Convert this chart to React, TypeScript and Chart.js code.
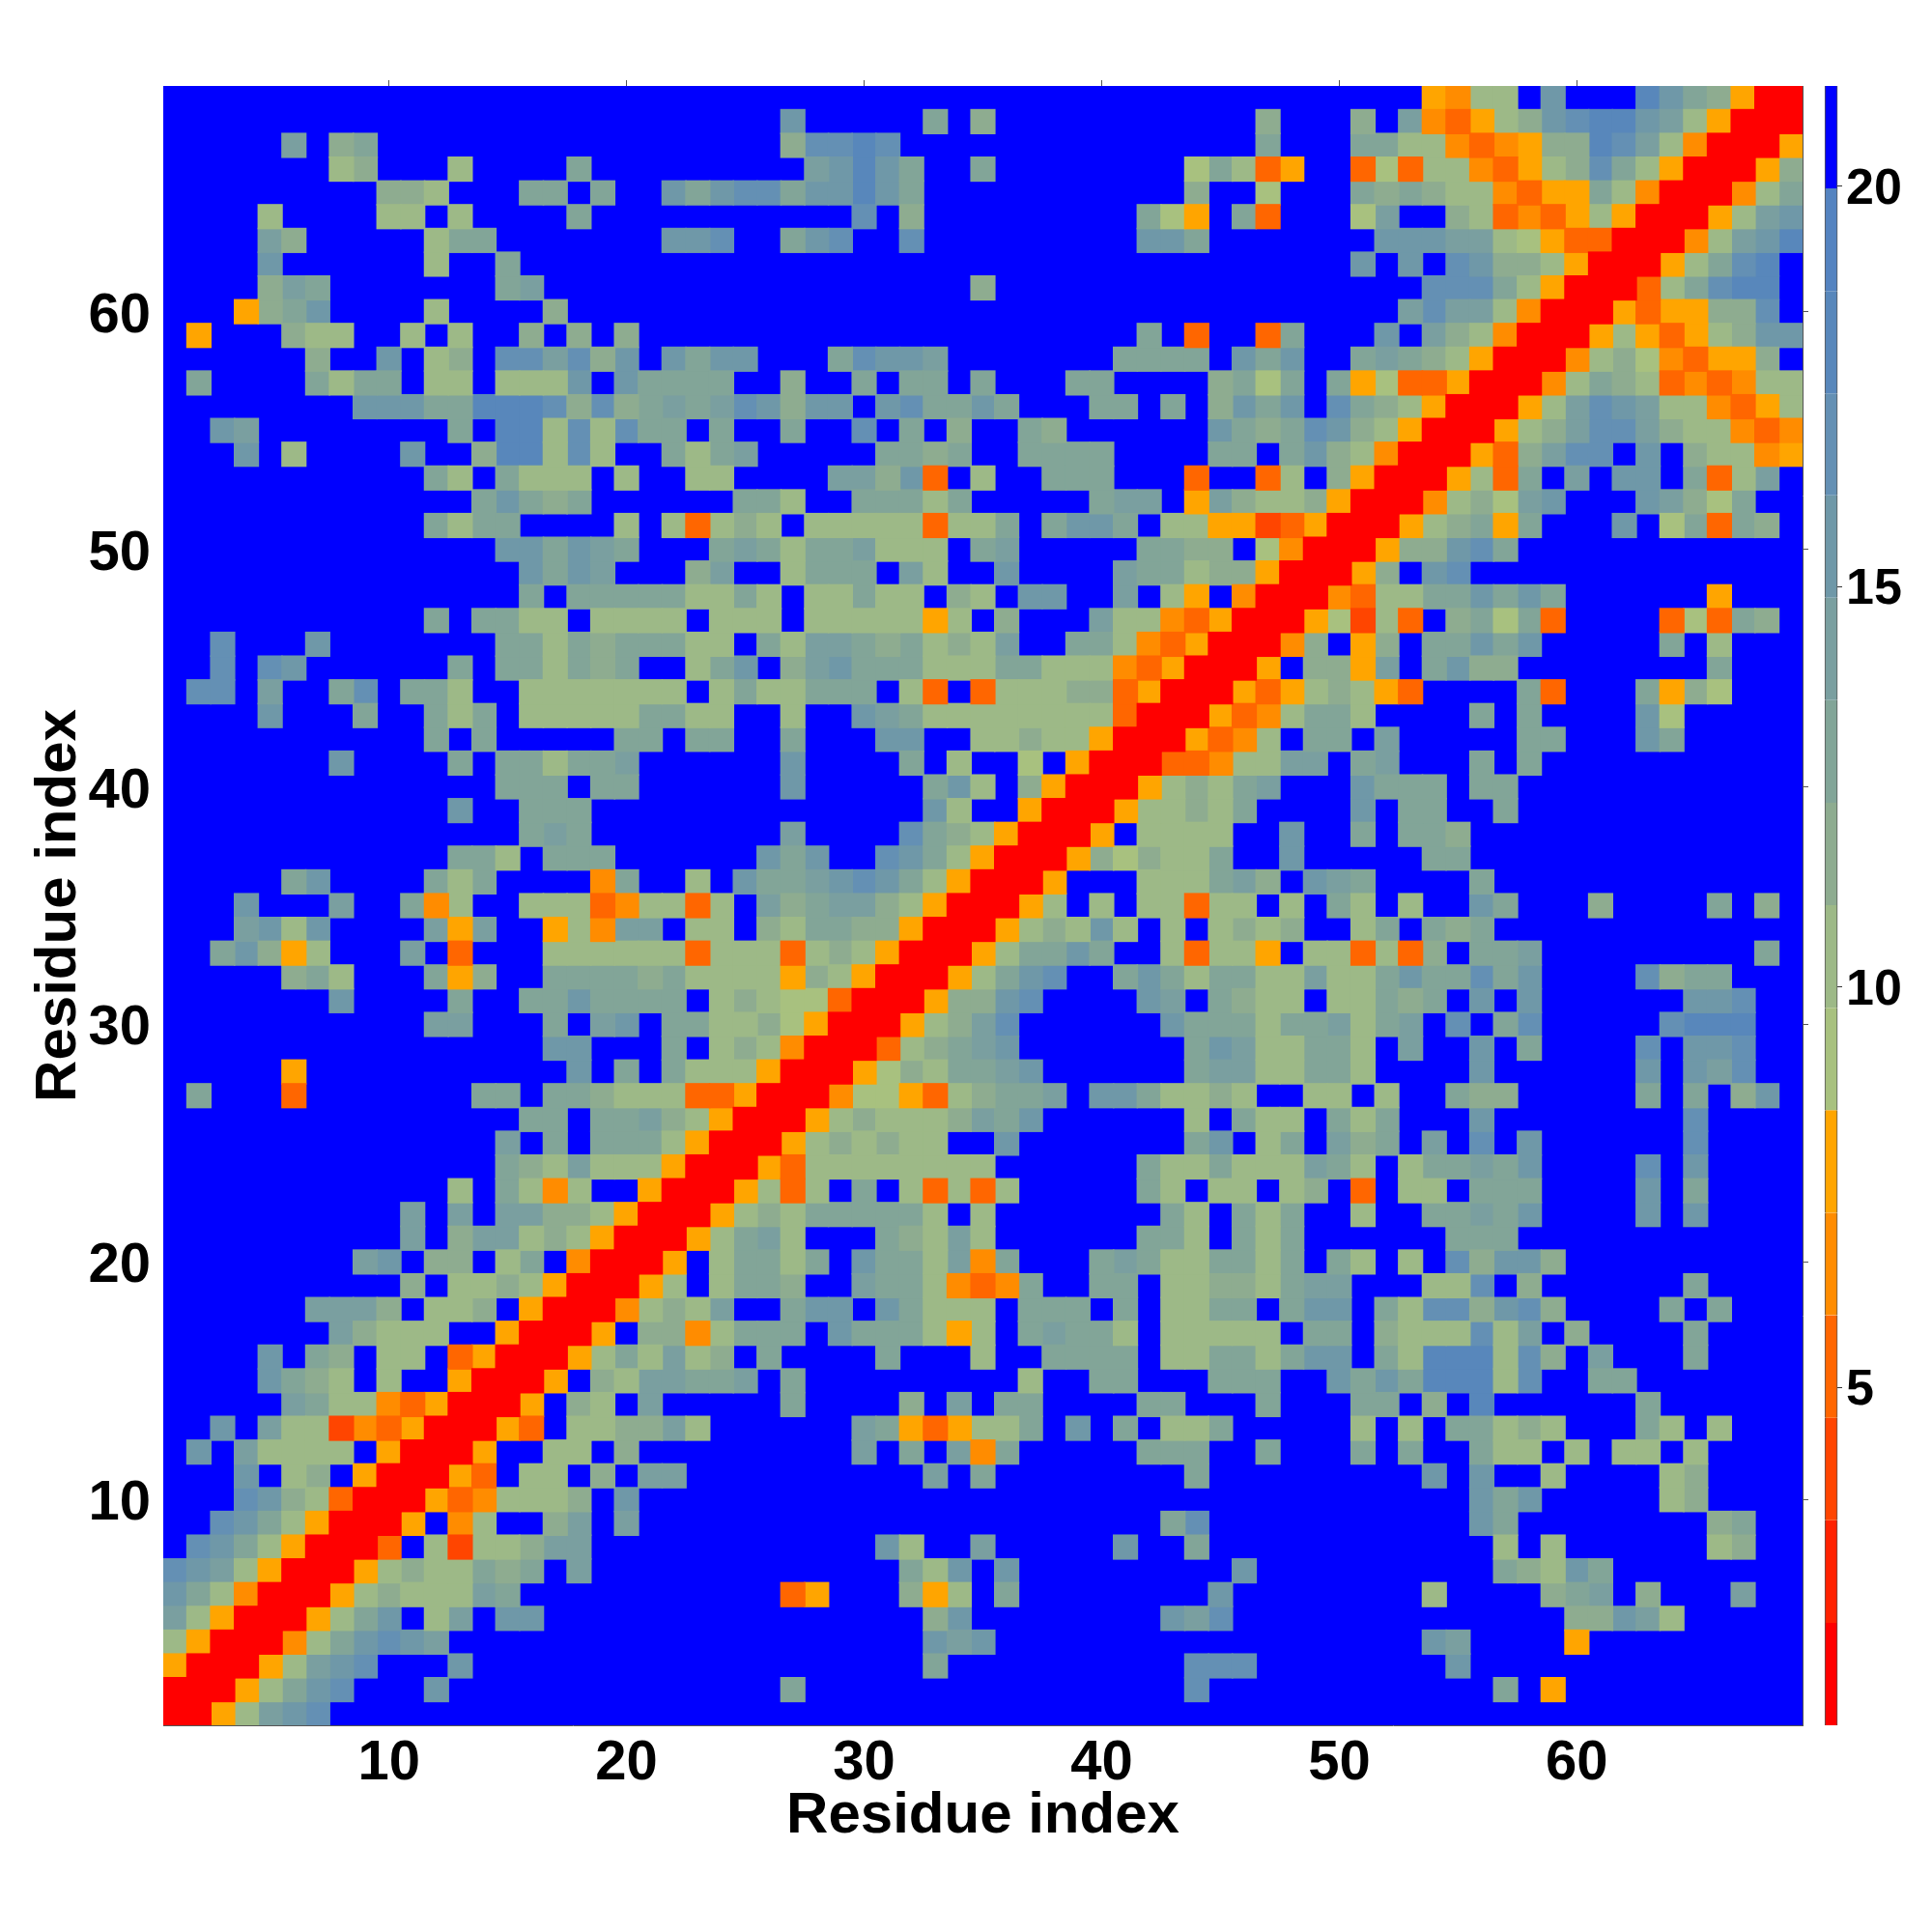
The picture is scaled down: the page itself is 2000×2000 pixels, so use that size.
import React, { useEffect, useRef } from "react";
import { Chart, registerables } from "chart.js";

Chart.register(...registerables);

const residueCount = 69;
const tickValues = [10, 20, 30, 40, 50, 60];
const colorbarTicks = [5, 10, 15, 20];
const axisTitle = "Residue index";

// Edges of the 16 discrete distance levels, and their colours (low to high).
const levelEdges = [0.78, 2.06, 3.34, 4.62, 5.9, 7.18, 8.46, 9.74, 11.02, 12.3, 13.58, 14.86, 16.14, 17.41, 18.69, 19.97, 21.25];
const levelColors = [
  "#ff0000", "#ff2200", "#ff4500", "#ff6600", "#ff8c00", "#ffa500",
  "#a8c17f", "#9db987", "#8eac90", "#82a598", "#7a9fa0", "#6f98a8",
  "#6490b4", "#5887bb", "#5483c0", "#0000ff",
];
// One character per cell: index into the levels (0-9, a-e), "." = top level.
const levelCodes = "0123456789abcde.";

// Upper triangle of the symmetric map: row i holds residues x = i..69.
const triangleRows = [
  "0057abc........... ................. ................. .................",
  "00579bc...b...... ........9........ ........c........ ....9.5..........",
  "0057abc...b..... ..............9.. ........ccc...... ..b..............",
  "00479bcba...... ..............bab ................. .ba....5.........",
  "00579b.7a.bb.. ..............8b. .......bac....... .......88ba7.....",
  "00578777a9... ........35...857. 9........b....... .7....89a.8...a..",
  "0057877989.a .............97b. b.........b...... ....987b9........",
  "003.72778aa ............b7..a .....b..9........ ....7.7......78..",
  "005.47..8a .a............... .......9c........ ...b9........89..",
  "005347778 .b............... ................. ...b9b.....78....",
  "0053.77. 8.aa..........a.9 ........9........ .b.b..7....78....",
  "005..77 .8.........a.9.a4 9.....999..9...9. 9..977.7.77.7....",
  "0053.7 788a7......a95357 79.b.9.779.....7. 7.99787...97.7...",
  "005.8 7.a.....9....8.a. 99....99...9...99 .8.d......9......",
  "005. 87aa99a.9........ .7..99...999..b9b 9ddd7c..99.......",
  "005 797a78.9....9...7 ..9999.779979bb.9 7ddd7c8.a...9....",
  "00 5.8847999.b999757 .9a997.77777.99.8 777c7a.8....9....",
  "0 04787a..9bb.b9777 .999.9.7799.9bb.9 7cc8bc8....9.9...",
  "0057.7998..a99743 49..99.778879aa.. .77c.8......9....",
  "005.79979.b997a4 9...9a9779979.97. 7.c8bb8..........",
  "00579a7...987a7 ......997.979.... ..999............",
  "005787999997.7 .......97.979..7. .99a9b....b.b....",
  "005737.9.7373 7.....97.77.78.3. 77.999....b.9....",
  "005377777777 ......9779777a97. 799a9b....c.b....",
  "005787877.. b.......9b.79.a89 .a.c.b......c....",
  "005787778a 9b......7.977.979 ...b........c....",
  "004665378 99a.bb97787..77.7 ..988.....9.9.8b.",
  "00568799 ab......9aa77997. ...b......b.bac..",
  "003789a b.......9ba77997. a..b.9....c.bbc..",
  "00578a c......b999799a79 a.c.9c.....cddd..",
  "00588 bc....ba.9877.779 89.b.b......bbc..",
  "0057 9bc..9b979977a779 b99c9b....c899...",
  "005 799b9..73775.7737 38.99a.........9.",
  "00 5787b7.7.7878..79 .989.............",
  "0 057.7.77377.7.97. 7..b9...8....9.8.",
  "005...7779a8.ba9. ...9.............",
  "005868779..b.... .99..............",
  "005.7777..b..9. 998..............",
  "00577879....b. 99..9............",
  "0057879a...b9 99.99............",
  "0033477aa.9a ...9.9...........",
  "005347.99.a .....99...b9.....",
  "005347997. ...9.9....b6.....",
  "005357875 3....93...9586...",
  "005.885a .9b88........9...",
  "0048.58 .99b9b.....9.7...",
  "005627 3.89693....36398.",
  "00437 799b9b9......5...",
  "0058 .bc..............",
  "005 88bc9............",
  "00 578959...b.69398.",
  "0 04786ab...ba869..",
  "005739.a.bb.937a.",
  "00538acc.b.87745",
  "00578acca877434",
  "0057acba774357",
  "0047987343477",
  "00478643558.",
  "005753578bb",
  "00535588c.",
  "00379cdd.",
  "00579cd.",
  "0047abd",
  "0057ab",
  "00479",
  "0058",
  "005",
  "00",
  "0",
];

const FONT = '"Liberation Sans", Arial, sans-serif';

function levelOf(value: number): number {
  for (let i = 0; i < levelColors.length; i++) {
    if (value < levelEdges[i + 1]) return i;
  }
  return levelColors.length - 1;
}

function buildCells() {
  const cells: { x: number; y: number; v: number }[] = [];
  triangleRows.forEach((raw, r) => {
    const row = raw.replace(/ /g, "");
    for (let k = 0; k < row.length; k++) {
      const lvl = levelCodes.indexOf(row[k]);
      const v = (levelEdges[lvl] + levelEdges[lvl + 1]) / 2;
      const a = r + 1;
      const b = r + 1 + k;
      cells.push({ x: b, y: a, v });
      if (a !== b) cells.push({ x: a, y: b, v });
    }
  });
  // Background level first, so its edges never eat into the other cells.
  return cells.sort((p, q) => q.v - p.v);
}

export default function App() {
  const ref = useRef<HTMLCanvasElement>(null);
  useEffect(() => {
    document.body.style.margin = "0";
    const cells = buildCells();
    const useTicks = (list: number[]) => (axis: any) => {
      axis.ticks = list.map((value) => ({ value }));
    };
    const chart = new Chart(ref.current as HTMLCanvasElement, {
      type: "scatter",
      data: {
        datasets: [
          {
            type: "scatter",
            xAxisID: "x",
            yAxisID: "y",
            data: cells,
            pointStyle: "rect",
            pointRadius: 18.5,
            pointBorderWidth: 0,
            pointHoverRadius: 18.5,
            backgroundColor: cells.map((c) => levelColors[levelOf(c.v)]),
          } as any,
          {
            type: "bar",
            xAxisID: "xCb",
            yAxisID: "yCb",
            clip: false,
            barThickness: 13,
            borderWidth: { left: 1, right: 1, top: 0, bottom: 0 },
            borderColor: "#555555",
            borderSkipped: false,
            data: levelColors.map((_, i) => ({ x: 1.0136, y: [levelEdges[i], levelEdges[i + 1]] })),
            backgroundColor: levelColors,
          } as any,
        ],
      },
      options: {
        responsive: false,
        animation: false,
        events: [],
        layout: { padding: 0 },
        plugins: { legend: { display: false }, tooltip: { enabled: false }, title: { display: false } },
        scales: {
          x: {
            type: "linear",
            position: "bottom",
            min: 0.5,
            max: residueCount + 0.5,
            afterBuildTicks: useTicks(tickValues),
            afterFit: (s: any) => { s.height = 214; },
            grid: { display: false, drawTicks: false },
            border: { display: true, color: "#555555", width: 1 },
            ticks: {
              color: "#000000",
              font: { family: FONT, weight: "bold", size: 58 },
              padding: 5,
              maxRotation: 0,
              autoSkip: false,
              callback: (v: any) => String(v),
            },
            title: {
              display: true,
              text: axisTitle,
              color: "#000000",
              font: { family: FONT, weight: "bold", size: 60, lineHeight: 1 },
              padding: { top: 0, bottom: 90 },
            },
          },
          y: {
            type: "linear",
            position: "left",
            min: 0.5,
            max: residueCount + 0.5,
            afterBuildTicks: useTicks(tickValues),
            afterFit: (s: any) => { s.width = 169; },
            grid: { display: false, drawTicks: false },
            border: { display: true, color: "#555555", width: 1 },
            ticks: {
              color: "#000000",
              font: { family: FONT, weight: "bold", size: 58 },
              padding: 13,
              labelOffset: 5,
              autoSkip: false,
              callback: (v: any) => String(v),
            },
            title: {
              display: true,
              text: axisTitle,
              color: "#000000",
              font: { family: FONT, weight: "bold", size: 60, lineHeight: 1 },
              padding: { top: 31, bottom: 0 },
            },
          },
          xTop: {
            axis: "x",
            type: "linear",
            position: "top",
            min: 0.5,
            max: residueCount + 0.5,
            afterBuildTicks: useTicks(tickValues),
            afterFit: (s: any) => { s.height = 89; },
            grid: { drawOnChartArea: false, drawTicks: true, tickLength: 6, color: "#555555", lineWidth: 1 },
            border: { display: true, color: "#555555", width: 1 },
            ticks: { display: false },
          },
          yRight: {
            axis: "y",
            type: "linear",
            position: "right",
            weight: 1,
            min: 0.5,
            max: residueCount + 0.5,
            afterBuildTicks: useTicks(tickValues),
            afterFit: (s: any) => { s.width = 36; },
            grid: { drawOnChartArea: false, drawTicks: true, tickLength: 6, color: "#555555", lineWidth: 1 },
            border: { display: true, color: "#555555", width: 1 },
            ticks: { display: false },
          },
          yCb: {
            axis: "y",
            type: "linear",
            position: "right",
            weight: 2,
            min: levelEdges[0],
            max: levelEdges[levelEdges.length - 1],
            afterBuildTicks: useTicks(colorbarTicks),
            afterFit: (s: any) => { s.width = 98; },
            grid: { drawOnChartArea: false, drawTicks: true, tickLength: 5, color: "#333333", lineWidth: 1 },
            border: { display: false },
            ticks: {
              color: "#000000",
              font: { family: FONT, weight: "bold", size: 52 },
              padding: 4,
              labelOffset: 4,
              autoSkip: false,
              callback: (v: any) => String(v),
            },
          },
          xCb: {
            axis: "x",
            type: "linear",
            display: false,
            offset: false,
            min: 0,
            max: 1,
            grid: { display: false, offset: false },
          },
        },
      } as any,
    });
    return () => chart.destroy();
  }, []);
  return <canvas ref={ref} width={2000} height={2000} style={{ display: "block" }} />;
}
